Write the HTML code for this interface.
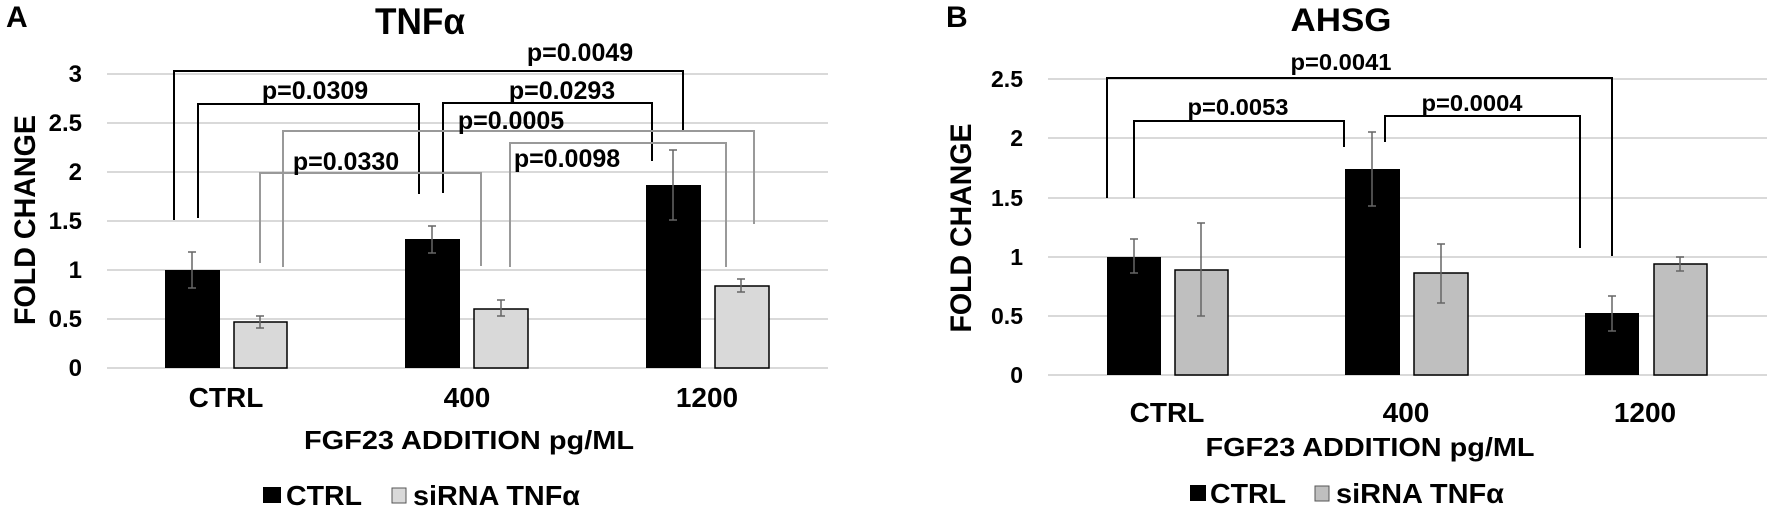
<!DOCTYPE html>
<html><head><meta charset="utf-8"><style>
html,body{margin:0;padding:0;background:#fff;}
svg{display:block;}
text{font-family:"Liberation Sans",Arial,sans-serif;font-weight:bold;fill:#000;}
</style></head><body>
<svg width="1772" height="510" viewBox="0 0 1772 510" xmlns="http://www.w3.org/2000/svg">
<!-- Panel A -->
<text x="6" y="27" font-size="30">A</text>
<text x="420" y="34" font-size="37" text-anchor="middle" textLength="90" lengthAdjust="spacingAndGlyphs">TNFα</text>
<g stroke="#d9d9d9" stroke-width="2">
<line x1="107" x2="828" y1="74" y2="74"/><line x1="107" x2="828" y1="123" y2="123"/>
<line x1="107" x2="828" y1="172" y2="172"/><line x1="107" x2="828" y1="221" y2="221"/>
<line x1="107" x2="828" y1="270" y2="270"/><line x1="107" x2="828" y1="319" y2="319"/>
<line x1="107" x2="828" y1="368" y2="368"/>
</g>
<g font-size="24" text-anchor="end">
<text x="82" y="82">3</text><text x="82" y="131">2.5</text><text x="82" y="180">2</text>
<text x="82" y="229">1.5</text><text x="82" y="278">1</text><text x="82" y="327">0.5</text><text x="82" y="376">0</text>
</g>
<text transform="translate(35,220) rotate(-90)" font-size="30" text-anchor="middle" textLength="210" lengthAdjust="spacingAndGlyphs">FOLD CHANGE</text>
<!-- bars A -->
<rect x="165" y="270" width="55" height="98" fill="#000"/>
<rect x="234" y="322" width="53" height="46" fill="#d9d9d9" stroke="#000" stroke-width="1.5"/>
<rect x="405" y="239" width="55" height="129" fill="#000"/>
<rect x="474" y="309" width="54" height="59" fill="#d9d9d9" stroke="#000" stroke-width="1.5"/>
<rect x="646" y="185" width="55" height="183" fill="#000"/>
<rect x="715" y="286" width="54" height="82" fill="#d9d9d9" stroke="#000" stroke-width="1.5"/>
<g stroke="#666" stroke-width="1.5">
<path d="M192 252V288M188 252H196M188 288H196"/>
<path d="M260 316V328M256 316H264M256 328H264"/>
<path d="M432 226V253M428 226H436M428 253H436"/>
<path d="M501 300V316M497 300H505M497 316H505"/>
<path d="M673 150V220M669 150H677M669 220H677"/>
<path d="M741 279V292M737 279H745M737 292H745"/>
</g>
<!-- brackets A -->
<g fill="none" stroke="#000" stroke-width="2">
<path d="M174 220V71H683V130"/>
<path d="M198 218V104H419V194"/>
<path d="M443 193V103H652V161"/>
</g>
<g fill="none" stroke="#999" stroke-width="2">
<path d="M283 267V131H754V224"/>
<path d="M260 263V173H481V266"/>
<path d="M510 267V143H726V267"/>
</g>
<g font-size="25" text-anchor="middle">
<text x="580" y="61">p=0.0049</text>
<text x="315" y="99">p=0.0309</text>
<text x="562" y="99">p=0.0293</text>
<text x="511" y="129">p=0.0005</text>
<text x="346" y="170">p=0.0330</text>
<text x="567" y="167">p=0.0098</text>
</g>
<g font-size="28" text-anchor="middle">
<text x="226" y="407">CTRL</text><text x="467" y="407">400</text><text x="707" y="407">1200</text>
</g>
<text x="469" y="449" font-size="26" text-anchor="middle" textLength="330" lengthAdjust="spacingAndGlyphs">FGF23 ADDITION pg/ML</text>
<rect x="263" y="487" width="18" height="16" fill="#000"/>
<text x="286" y="505" font-size="28" textLength="76" lengthAdjust="spacingAndGlyphs">CTRL</text>
<rect x="392" y="488" width="14" height="15" fill="#d9d9d9" stroke="#555" stroke-width="1"/>
<text x="413" y="505" font-size="28" textLength="167" lengthAdjust="spacingAndGlyphs">siRNA TNFα</text>

<!-- Panel B -->
<text x="946" y="27" font-size="30">B</text>
<text x="1341" y="31" font-size="32" text-anchor="middle" textLength="101" lengthAdjust="spacingAndGlyphs">AHSG</text>
<g stroke="#d9d9d9" stroke-width="2">
<line x1="1048" x2="1767" y1="79" y2="79"/><line x1="1048" x2="1767" y1="138" y2="138"/>
<line x1="1048" x2="1767" y1="198" y2="198"/><line x1="1048" x2="1767" y1="257" y2="257"/>
<line x1="1048" x2="1767" y1="316" y2="316"/><line x1="1048" x2="1767" y1="375" y2="375"/>
</g>
<g font-size="23" text-anchor="end">
<text x="1023" y="87">2.5</text><text x="1023" y="146">2</text><text x="1023" y="206">1.5</text>
<text x="1023" y="265">1</text><text x="1023" y="324">0.5</text><text x="1023" y="383">0</text>
</g>
<text transform="translate(971,228) rotate(-90)" font-size="30" text-anchor="middle" textLength="209" lengthAdjust="spacingAndGlyphs">FOLD CHANGE</text>
<rect x="1107" y="257" width="54" height="118" fill="#000"/>
<rect x="1175" y="270" width="53" height="105" fill="#bfbfbf" stroke="#000" stroke-width="1.5"/>
<rect x="1345" y="169" width="55" height="206" fill="#000"/>
<rect x="1414" y="273" width="54" height="102" fill="#bfbfbf" stroke="#000" stroke-width="1.5"/>
<rect x="1585" y="313" width="54" height="62" fill="#000"/>
<rect x="1654" y="264" width="53" height="111" fill="#bfbfbf" stroke="#000" stroke-width="1.5"/>
<g stroke="#666" stroke-width="1.5">
<path d="M1134 239V273M1130 239H1138M1130 273H1138"/>
<path d="M1201 223V316M1197 223H1205M1197 316H1205"/>
<path d="M1372 132V206M1368 132H1376M1368 206H1376"/>
<path d="M1441 244V303M1437 244H1445M1437 303H1445"/>
<path d="M1612 296V331M1608 296H1616M1608 331H1616"/>
<path d="M1680 257V271M1676 257H1684M1676 271H1684"/>
</g>
<g fill="none" stroke="#000" stroke-width="2">
<path d="M1107 198V78H1612V256"/>
<path d="M1134 198V121H1344V147"/>
<path d="M1385 142V116H1580V248"/>
</g>
<g font-size="23" text-anchor="middle">
<text x="1341" y="70" textLength="101" lengthAdjust="spacingAndGlyphs">p=0.0041</text>
<text x="1238" y="115" textLength="101" lengthAdjust="spacingAndGlyphs">p=0.0053</text>
<text x="1472" y="111" textLength="101" lengthAdjust="spacingAndGlyphs">p=0.0004</text>
</g>
<g font-size="28" text-anchor="middle">
<text x="1167" y="422">CTRL</text><text x="1406" y="422">400</text><text x="1645" y="422">1200</text>
</g>
<text x="1370" y="456" font-size="26" text-anchor="middle" textLength="329" lengthAdjust="spacingAndGlyphs">FGF23 ADDITION pg/ML</text>
<rect x="1190" y="485" width="16" height="16" fill="#000"/>
<text x="1210" y="503" font-size="28" textLength="76" lengthAdjust="spacingAndGlyphs">CTRL</text>
<rect x="1315" y="486" width="14" height="15" fill="#bfbfbf" stroke="#555" stroke-width="1"/>
<text x="1336" y="503" font-size="28" textLength="168" lengthAdjust="spacingAndGlyphs">siRNA TNFα</text>
</svg>
</body></html>
